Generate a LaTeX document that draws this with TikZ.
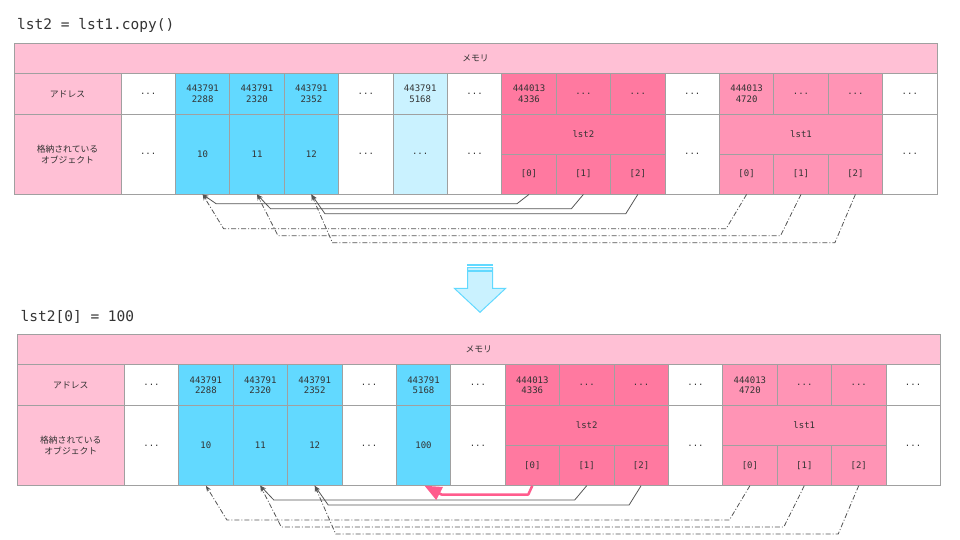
\documentclass[tikz,border=0pt]{standalone}
\usepackage{fontspec}
\setmonofont{DejaVu Sans Mono}
\newfontfamily\jpfont{Noto Sans CJK JP}
\usetikzlibrary{arrows.meta}
\definecolor{hd}{HTML}{FFC0D5}
\definecolor{cy}{HTML}{62D9FF}
\definecolor{lcy}{HTML}{CAF2FF}
\definecolor{pkA}{HTML}{FF79A0}
\definecolor{pkB}{HTML}{FF94B5}
\definecolor{bd}{HTML}{A0A0A0}
\definecolor{tx}{HTML}{333333}
\definecolor{ln}{HTML}{555555}
\definecolor{hot}{HTML}{FF5C8D}
\newcommand\dts{...}
\newcommand\cf{\fontsize{9}{10.7}\selectfont\ttfamily}
\newcommand\jf{\fontsize{8.8}{10.7}\selectfont\jpfont}
\begin{document}
\begin{tikzpicture}[x=1pt,y=-1pt,
  cell/.style={draw=bd,line width=.8pt,inner sep=0pt,minimum width=54.4pt,align=center,text=tx,font=\cf},
  ttl/.style={anchor=base west,inner sep=0pt,text=tx,font=\fontsize{14.5}{17}\selectfont\ttfamily},
  ref/.style={draw=ln,line width=.8pt,-{Stealth[length=6pt,width=4.5pt]}},
  cpy/.style={ref,dash pattern=on 5pt off 2pt on 1pt off 2pt},
  hotref/.style={draw=hot,line width=2.5pt,line join=round,-{Triangle[length=17pt,width=14pt]}}]
\useasboundingbox (0,0) rectangle (960,540);
\node[ttl] (t1) at (17,30) {lst2 = lst1.copy()};
\node[ttl] (t2) at (20.5,321.3) {lst2[0] = 100};
% the two memory tables
\foreach \t/\ox/\oy/\fc/\v in {A/14/43.3/lcy/\dts, B/17.3/334.6/cy/100}{
\begin{scope}[shift={(\ox,\oy)}]
\node[cell,fill=hd,minimum width=923pt,minimum height=30.2pt,font=\jf] (\t-mem) at (461.5,15.1) {メモリ};
\node[cell,fill=hd,minimum width=107pt,minimum height=40.8pt,font=\jf] (\t-lab1) at (53.5,50.6) {アドレス};
\node[cell,fill=hd,minimum width=107pt,minimum height=79.7pt,font=\jf] (\t-lab2) at (53.5,110.85) {格納されている\\オブジェクト};
\foreach \i/\c/\s in {1/white/\dts, 2/cy/{443791\\2288}, 3/cy/{443791\\2320}, 4/cy/{443791\\2352},
    5/white/\dts, 6/\fc/{443791\\5168}, 7/white/\dts, 8/pkA/{444013\\4336}, 9/pkA/\dts, 10/pkA/\dts,
    11/white/\dts, 12/pkB/{444013\\4720}, 13/pkB/\dts, 14/pkB/\dts, 15/white/\dts}
  \node[cell,fill=\c,minimum height=40.8pt] (\t-a\i) at (79.8+54.4*\i,50.6) {\s};
\foreach \i/\c/\s in {1/white/\dts, 2/cy/10, 3/cy/11, 4/cy/12, 5/white/\dts, 6/\fc/\v, 7/white/\dts, 11/white/\dts, 15/white/\dts}
  \node[cell,fill=\c,minimum height=79.7pt] (\t-o\i) at (79.8+54.4*\i,110.85) {\s};
\node[cell,fill=pkA,minimum width=163.2pt,minimum height=40pt] (\t-lst2) at (79.8+54.4*9,91) {lst2};
\node[cell,fill=pkB,minimum width=163.2pt,minimum height=40pt] (\t-lst1) at (79.8+54.4*13,91) {lst1};
\foreach \k in {0,1,2}{
  \node[cell,fill=pkA,minimum height=39.7pt] (\t-x\k) at (79.8+54.4*8+54.4*\k,130.85) {[\k]};
  \node[cell,fill=pkB,minimum height=39.7pt] (\t-y\k) at (79.8+54.4*12+54.4*\k,130.85) {[\k]};
}
\end{scope}}
% references
\draw[ref] (A-x0.south) -- ++(-12,9.3) -- ([shift={(13.5,9.3)}]A-o2.south) -- (A-o2.south);
\foreach \t in {A,B}{
  \foreach \k/\j in {1/3,2/4}
    \draw[ref] (\t-x\k.south) -- ++(-12,9.3+5*\k) -- ([shift={(13.5,9.3+5*\k)}]\t-o\j.south) -- (\t-o\j.south);
  \foreach \k/\j in {0/2,1/3,2/4}
    \draw[cpy] (\t-y\k.south) -- ++(-20.5,34.3+7*\k) -- ([shift={(21,34.3+7*\k)}]\t-o\j.south) -- (\t-o\j.south);
}
\draw[hotref] (B-x0.south) -- ++(-4,8.8) -- ([shift={(18,8.8)}]B-o6.south) -- ([xshift=1pt]B-o6.south);
% down arrow
\fill[cy] (467,263.5) rectangle (493,266);
\draw[cy,fill=lcy,line width=1pt] (467.5,267.5) -- (492.5,267.5) -- (492.5,288.3) -- (505.7,288.3)
  -- (480,312.3) -- (454.3,288.3) -- (467.5,288.3) -- cycle;
\fill[cy] (467.5,269.5) rectangle (492.5,271.5);
\end{tikzpicture}
\end{document}
